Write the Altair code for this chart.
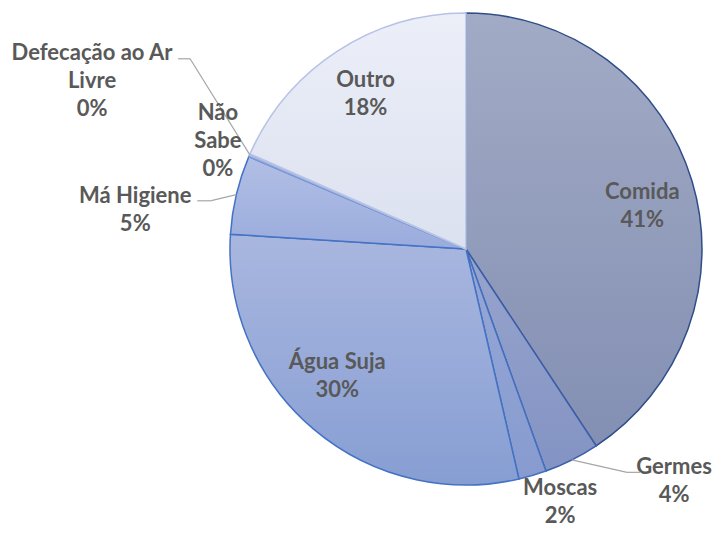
import altair as alt
import pandas as pd

# ---- data ----
categories = ["Comida", "Germes", "Moscas", "Água Suja", "Má Higiene",
              "Não Sabe", "Defecação ao Ar Livre", "Outro"]
label_names = ["Comida", "Germes", "Moscas", "Água Suja", "Má Higiene",
               "Não\nSabe", "Defecação ao Ar\nLivre", "Outro"]
values = [40.7, 3.8, 1.9, 29.6, 5.4, 0.1, 0.1, 18.4]

df = pd.DataFrame({
    "cat": categories,
    "name": label_names,
    "value": values,
    "order": list(range(len(categories))),
})
total = float(sum(values))

# ---- layout / style ----
W, H = 494, 482
PAD = {"left": 211, "top": 0, "right": 0, "bottom": 41}
CX, CY = W / 2, H / 2
R = 236
TEXT_COLOR = "#595959"
FONT = "Lato"
FS = 22
LH = 28

fills = {
    "Comida": ("#a2abc5", "#838fb3"),
    "Germes": ("#97a4cd", "#8393c3"),
    "Moscas": ("#97a8d6", "#879bcf"),
    "Água Suja": ("#a9b7df", "#879ed3"),
    "Má Higiene": ("#b2bfe5", "#9aacdd"),
    "Não Sabe": ("#c5cfec", "#b8c4e8"),
    "Defecação ao Ar Livre": ("#d2daf0", "#c8d1ed"),
    "Outro": ("#eceff8", "#dce1f0"),
}
strokes = {
    "Comida": "#2f4d8a",
    "Germes": "#3a5ea9",
    "Moscas": "#4470c0",
    "Água Suja": "#4472c4",
    "Má Higiene": "#4472c4",
    "Não Sabe": "#7f9bd6",
    "Defecação ao Ar Livre": "#a9b8e2",
    "Outro": "#b7c3e5",
}
# label radius, dx, dy (block centre), leader bend offset, leader end offset
label_style = {
    "Comida": (182, 2, 9, None, None),
    "Germes": (270, 87, -9, (-47, -9), (-34, -9)),
    "Moscas": (270, 18, -6, None, None),
    "Água Suja": (182, -11, -12, None, None),
    "Má Higiene": (270, -68, 23, (75, -9), (62, -9)),
    "Não Sabe": (270, 0, -2, None, None),
    "Defecação ao Ar Livre": (408, 0, -5, (98, -22), (86, -22)),
    "Outro": (182, -1, -3, None, None),
}

base = alt.Chart(df).transform_window(
    cum="sum(value)", sort=[alt.SortField("order")], frame=[None, 0]
).transform_calculate(
    start="datum.cum - datum.value",
    mid="datum.cum - datum.value / 2",
    ang=f"(datum.cum - datum.value / 2) / {total} * 2 * PI",
    label=f"datum.name + '\\n' + format(datum.value / {total}, '.0%')",
)

theta_scale = alt.Scale(domain=[0, total])

layers = []
for cat in categories:
    top, bot = fills[cat]
    grad = alt.Gradient(
        gradient="linear",
        stops=[alt.GradientStop(color=top, offset=0),
               alt.GradientStop(color=bot, offset=1)],
        x1=0, x2=0, y1=0, y2=1,
    )
    layers.append(
        base.transform_filter(alt.datum.cat == cat)
        .mark_arc(radius=R, fill=grad, stroke=strokes[cat], strokeWidth=1.5)
        .encode(
            theta=alt.Theta("start:Q", scale=theta_scale, stack=None),
            theta2=alt.Theta2("cum:Q"),
        )
    )

for cat in categories:
    rl, dx, dy, bend, end = label_style[cat]
    if bend is None:
        continue
    lx = f"{CX} + {rl} * sin(datum.ang) + ({dx})"
    ly = f"{CY} - {rl} * cos(datum.ang) + ({dy})"
    leader = base.transform_filter(alt.datum.cat == cat).transform_calculate(
        sx=f"{CX} + {R} * sin(datum.ang)",
        sy=f"{CY} - {R} * cos(datum.ang)",
        bx=f"{lx} + ({bend[0]})",
        by=f"{ly} + ({bend[1]})",
        ex=f"{lx} + ({end[0]})",
        ey=f"{ly} + ({end[1]})",
    )
    layers.append(
        leader.mark_rule(color="#a6a6a6", strokeWidth=1.2).encode(
            x=alt.X("sx:Q", scale=None), y=alt.Y("sy:Q", scale=None),
            x2="bx:Q", y2="by:Q",
        )
    )
    layers.append(
        leader.mark_rule(color="#a6a6a6", strokeWidth=1.2).encode(
            x=alt.X("bx:Q", scale=None), y=alt.Y("by:Q", scale=None),
            x2="ex:Q", y2="ey:Q",
        )
    )

for cat, nm in zip(categories, label_names):
    rl, dx, dy, _, _ = label_style[cat]
    nlines = nm.count("\n") + 2
    layers.append(
        base.transform_filter(alt.datum.cat == cat)
        .mark_text(radius=rl, dx=dx, dy=dy - (nlines - 1) * LH / 2,
                   font=FONT, fontSize=FS, fontWeight="bold",
                   color=TEXT_COLOR, lineBreak="\n", lineHeight=LH,
                   align="center", baseline="middle")
        .encode(
            theta=alt.Theta("mid:Q", scale=theta_scale, stack=None),
            text="label:N",
        )
    )

chart = alt.layer(*layers).properties(
    width=W, height=H,
    padding=PAD,
    autosize=alt.AutoSizeParams(type="none"),
).configure_view(stroke=None)

chart.save("out.html", embed_options={"renderer": "svg", "actions": False})
